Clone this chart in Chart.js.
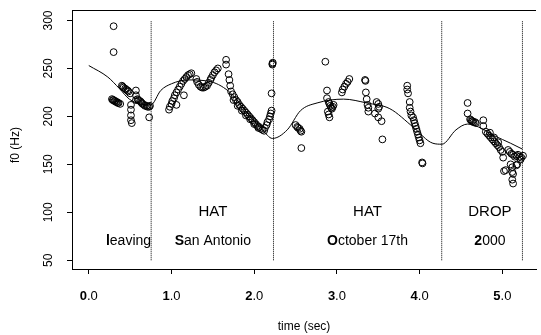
<!DOCTYPE html>
<html>
<head>
<meta charset="utf-8">
<script src="https://cdn.jsdelivr.net/npm/chart.js@4.4.1/dist/chart.umd.min.js"></script>
<style>
  html, body { margin: 0; padding: 0; background: #fff; }
</style>
</head>
<body>
<canvas id="f0chart" width="541" height="335"></canvas>
<script>
'use strict';

// measured f0 samples (time in sec, f0 in Hz)
const sampleTime = [
  0.30, 0.30,
  0.28, 0.29, 0.30, 0.31, 0.32, 0.33, 0.34, 0.35, 0.36, 0.38,
  0.40, 0.41, 0.42, 0.44, 0.45, 0.47, 0.48, 0.50,
  0.51, 0.51, 0.51, 0.51, 0.52,
  0.57, 0.57, 0.57,
  0.59, 0.60, 0.62, 0.63, 0.64, 0.65, 0.67, 0.68, 0.70, 0.71, 0.73, 0.74,
  0.73,
  0.97, 0.98, 1.00, 1.01, 1.03, 1.04, 1.06, 1.08, 1.10, 1.12, 1.14, 1.16, 1.18, 1.20, 1.22, 1.24,
  1.15, 1.06,
  1.30, 1.31, 1.33, 1.35, 1.37, 1.39, 1.41, 1.43,
  1.45, 1.47, 1.48, 1.50, 1.52, 1.54, 1.56,
  1.66, 1.66, 1.69, 1.70, 1.71,
  1.72, 1.74, 1.76, 1.78, 1.80, 1.82, 1.84, 1.86, 1.88, 1.90, 1.92, 1.94, 1.96, 1.98, 2.00, 2.02, 2.04, 2.06, 2.08, 2.10, 2.12,
  1.75, 1.80, 1.85, 1.90, 1.95, 2.00, 2.05,
  2.13, 2.15, 2.16, 2.18, 2.19, 2.20, 2.21,
  2.22, 2.225, 2.22, 2.21,
  2.50, 2.52, 2.53, 2.55, 2.56, 2.57, 2.57,
  2.86, 2.88, 2.88,
  2.90, 2.91, 2.92, 2.93, 2.94, 2.95, 2.96, 2.89, 2.90, 2.91,
  3.06, 3.07, 3.09, 3.11, 3.13, 3.15,
  3.34, 3.345, 3.35, 3.36, 3.37, 3.38, 3.38,
  3.48, 3.50, 3.51, 3.50, 3.46, 3.50, 3.54, 3.55,
  3.85, 3.85, 3.86, 3.88, 3.88, 3.89, 3.90,
  3.92, 3.93, 3.94, 3.95, 3.96, 3.97, 3.98, 3.99, 4.00, 4.01,
  4.03, 4.035,
  4.58, 4.58,
  4.61, 4.62, 4.63, 4.64, 4.65, 4.67, 4.68,
  4.77, 4.77,
  4.80, 4.82, 4.84, 4.86, 4.88, 4.90, 4.92, 4.94, 4.96, 4.98, 5.00,
  4.85, 4.90, 4.95,
  5.01,
  5.07, 5.09, 5.11, 5.13, 5.15, 5.17, 5.19, 5.21, 5.23, 5.25,
  5.04, 5.10, 5.12, 5.13, 5.12, 5.13, 5.18, 5.22, 5.02, 5.12, 5.17
];
const sampleHz = [
  294, 267,
  218, 217, 217, 216, 216, 215, 215, 214, 214, 213,
  232, 231, 230, 229, 228, 227, 226, 224,
  212, 207, 201, 196, 193,
  227, 222, 217,
  218, 217, 216, 215, 214, 213, 212, 211, 211, 210, 210, 211,
  199,
  207, 210, 213, 216, 219, 222, 225, 228, 231, 234, 237, 239, 241, 243, 244, 245,
  222, 212,
  239, 236, 233, 231, 230, 230, 231, 232,
  235, 238, 240, 243, 246, 248, 250,
  259, 254, 244, 238, 232,
  226, 223, 220, 217, 215, 212, 210, 208, 206, 204, 202, 200, 198, 196, 194, 192, 190, 189, 187, 186, 185,
  217, 211, 206, 201, 197, 192, 188,
  188, 191, 194, 197, 200, 203, 206,
  255, 256, 254, 224,
  191, 189, 188, 187, 185, 184, 167,
  257, 227, 219,
  215, 213, 211, 209, 208, 210, 212, 205, 202, 199,
  225, 228, 231, 234, 236, 239,
  238, 237, 225, 218, 212, 209, 205,
  215, 213, 210, 208, 203, 199, 195, 176,
  232, 228, 224, 215, 209, 205, 201,
  199, 196, 193, 190, 187, 184, 181, 178, 175, 172,
  152, 151,
  214, 203,
  197, 196, 195, 195, 194, 194, 193,
  196, 190,
  184, 182, 180, 178, 176, 174, 172, 170, 168, 165, 163,
  183, 178, 173,
  157,
  165, 163, 161, 160, 158, 159, 160, 158, 157, 159,
  144, 150, 147, 140, 134, 130, 150, 155, 143, 142, 149
];

// smoothed contour
const curveTime = [0.0, 0.23, 0.37, 0.49, 0.62, 0.75, 0.87, 1.0, 1.2, 1.48, 1.72, 1.95, 2.1, 2.22,
  2.4, 2.56, 2.76, 3.08, 3.36, 3.64, 3.92, 4.16, 4.27, 4.44, 4.58, 4.71, 4.9, 5.1, 5.24];
const curveHz = [253, 241, 229, 218, 213, 212, 227, 234, 238, 236, 224, 200, 186, 177,
  186, 206, 214, 218, 214, 208, 189, 172, 171, 186, 192, 189, 180, 172, 166];

// word boundaries
const boundaryTimes = [0.754, 2.233, 4.267, 5.243];

// labels
const accentLabels = ['HAT', 'HAT', 'DROP'];
const accentTime = [1.5, 3.37, 4.85];
const accentHz = 100;
const wordLabels = ['leaving', 'San Antonio', 'October 17th', '2000'];
const wordTime = [0.48, 1.5, 3.37, 4.85];
const wordHz = 70;

const xTicks = [0, 1, 2, 3, 4, 5];
const xTickLabels = ['0.0', '1.0', '2.0', '3.0', '4.0', '5.0'];
const yTicks = [50, 100, 150, 200, 250, 300];

const FONT = '"Liberation Sans", Arial, Helvetica, sans-serif';

function drawMixed(ctx, text, cx, cy, size) {
  // first letter bold, the rest plain
  const head = text.charAt(0), rest = text.slice(1);
  ctx.font = 'bold ' + size + 'px ' + FONT;
  const w1 = ctx.measureText(head).width;
  ctx.font = size + 'px ' + FONT;
  const w2 = ctx.measureText(rest).width;
  const x = cx - (w1 + w2) / 2;
  ctx.textAlign = 'left';
  ctx.textBaseline = 'middle';
  ctx.font = 'bold ' + size + 'px ' + FONT;
  ctx.fillText(head, x, cy);
  ctx.font = size + 'px ' + FONT;
  ctx.fillText(rest, x + w1, cy);
}

const textPlugin = {
  id: 'textPlugin',
  afterDraw(chart) {
    const ctx = chart.ctx;
    const area = chart.chartArea;
    const xs = chart.scales.x;
    const ys = chart.scales.y;
    ctx.save();
    ctx.fillStyle = '#000';
    ctx.strokeStyle = '#000';
    ctx.lineWidth = 1;

    // top edge of the box
    const top = Math.round(area.top) + 0.5;
    ctx.beginPath();
    ctx.moveTo(area.left, top);
    ctx.lineTo(area.right, top);
    ctx.stroke();

    // x tick labels
    for (let i = 0; i < xTicks.length; i++) {
      drawMixed(ctx, xTickLabels[i], xs.getPixelForValue(xTicks[i]), 296, 13);
    }

    // y tick labels, rotated
    ctx.font = '12px ' + FONT;
    ctx.textAlign = 'center';
    ctx.textBaseline = 'middle';
    for (let i = 0; i < yTicks.length; i++) {
      ctx.save();
      ctx.translate(49, ys.getPixelForValue(yTicks[i]));
      ctx.rotate(-Math.PI / 2);
      ctx.fillText(String(yTicks[i]), 0, 0);
      ctx.restore();
    }

    // axis titles
    ctx.font = '12px ' + FONT;
    ctx.fillText('time (sec)', (area.left + area.right) / 2, 327);
    ctx.save();
    ctx.translate(16, 145);
    ctx.rotate(-Math.PI / 2);
    ctx.fillText('f0 (Hz)', 0, 0);
    ctx.restore();

    // accent labels
    ctx.font = '15px ' + FONT;
    for (let i = 0; i < accentLabels.length; i++) {
      ctx.fillText(accentLabels[i], xs.getPixelForValue(accentTime[i]), ys.getPixelForValue(accentHz));
    }
    // words
    for (let i = 0; i < wordLabels.length; i++) {
      drawMixed(ctx, wordLabels[i], xs.getPixelForValue(wordTime[i]), ys.getPixelForValue(wordHz), 14);
    }
    ctx.restore();
  }
};

const samplePoints = sampleTime.map((t, i) => ({ x: t, y: sampleHz[i] }));
const curvePoints = curveTime.map((t, i) => ({ x: t, y: curveHz[i] }));
const boundarySets = boundaryTimes.map(t => ({
  type: 'line',
  data: [{ x: t, y: 50 }, { x: t, y: 300 }],
  borderColor: '#000',
  borderWidth: 1,
  borderDash: [1, 1],
  pointRadius: 0,
  fill: false
}));

const axisCommon = {
  type: 'linear',
  grid: { display: true, drawOnChartArea: false, drawTicks: true, tickLength: 5, color: '#000', lineWidth: 1 },
  border: { display: true, color: '#000', width: 1 },
  ticks: { color: 'rgba(0,0,0,0)', font: { size: 12, family: FONT }, autoSkip: false, maxRotation: 0 }
};

new Chart(document.getElementById('f0chart'), {
  type: 'scatter',
  data: {
    datasets: boundarySets.concat([
      {
        type: 'line',
        data: curvePoints,
        borderColor: '#000',
        borderWidth: 1,
        pointRadius: 0,
        cubicInterpolationMode: 'monotone',
        fill: false
      },
      {
        type: 'scatter',
        data: samplePoints,
        pointStyle: 'circle',
        pointRadius: 3.4,
        borderColor: '#000',
        borderWidth: 1,
        backgroundColor: 'rgba(0,0,0,0)'
      }
    ])
  },
  options: {
    responsive: false,
    animation: false,
    events: [],
    layout: { padding: { top: 10, right: 0, left: 0, bottom: 0 } },
    plugins: { legend: { display: false }, tooltip: { enabled: false } },
    scales: {
      x: Object.assign({}, axisCommon, {
        min: -0.203,
        max: 5.407,
        afterBuildTicks: (scale) => { scale.ticks = xTicks.map(v => ({ value: v })); },
        afterFit: (scale) => { scale.height = 66; }
      }),
      y: Object.assign({}, axisCommon, {
        min: 40.9,
        max: 310.7,
        afterBuildTicks: (scale) => { scale.ticks = yTicks.map(v => ({ value: v })); },
        afterFit: (scale) => { scale.width = 72; }
      })
    }
  },
  plugins: [textPlugin]
});
</script>
</body>
</html>
